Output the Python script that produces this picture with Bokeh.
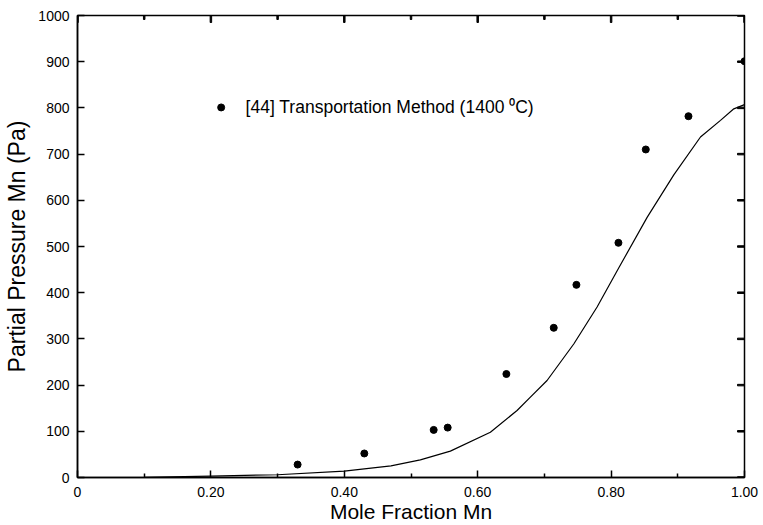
from bokeh.plotting import figure
from bokeh.models import Range1d, FixedTicker
from bokeh.core.properties import value
from bokeh.embed import file_html
from bokeh.resources import INLINE

# experimental points [44] Transportation Method (1400 C)
pts_x = [0.33, 0.43, 0.534, 0.555, 0.643, 0.714, 0.748, 0.811, 0.852, 0.916, 1.0]
pts_y = [28, 52, 103, 108, 224, 324, 417, 508, 710, 782, 901]

# calculated curve
curve_x = [0.0, 0.1, 0.2, 0.3, 0.4, 0.47, 0.514, 0.559, 0.619, 0.659, 0.679, 0.704,
           0.744, 0.779, 0.812, 0.854, 0.894, 0.934, 0.964, 0.984, 1.0]
curve_y = [0, 0.5, 3, 6, 14, 25, 38, 57, 98, 145, 174, 210,
           289, 369, 455, 563, 655, 737, 773, 798, 807]

x_ticks = [0, 0.2, 0.4, 0.6, 0.8, 1.0]
x_minor_ticks = [0.1, 0.3, 0.5, 0.7, 0.9]
x_tick_labels = ["0", "0.20", "0.40", "0.60", "0.80", "1.00"]
y_ticks = [0, 100, 200, 300, 400, 500, 600, 700, 800, 900, 1000]

legend_label = "[44] Transportation Method (1400 \u2070C)"

FONT = "Liberation Sans"
X_MIN, X_MAX, Y_MIN, Y_MAX = 0, 1, 0, 1000

p = figure(width=763, height=525, output_backend="svg", toolbar_location=None,
           x_range=Range1d(X_MIN, X_MAX), y_range=Range1d(Y_MIN, Y_MAX),
           min_border_left=77, min_border_right=19, min_border_top=15,
           min_border_bottom=48, background_fill_color="white",
           border_fill_color="white", outline_line_color="black",
           outline_line_width=1.5)
p.grid.visible = False

def style(ax):
    ax.axis_line_color = "black"
    ax.axis_line_width = 1.5
    ax.major_tick_in = 7
    ax.major_tick_out = 0
    ax.minor_tick_in = 4
    ax.minor_tick_out = 0
    ax.major_tick_line_width = 1.5
    ax.minor_tick_line_width = 1.5
    ax.major_tick_line_color = "black"
    ax.minor_tick_line_color = "black"
    ax.major_label_text_font = FONT
    ax.major_label_text_color = "black"
    ax.major_label_text_font_size = "14px"
    ax.axis_label_text_font = FONT
    ax.axis_label_text_font_style = "normal"
    ax.axis_label_text_color = "black"

xa = p.xaxis[0]
xa.ticker = FixedTicker(ticks=x_ticks, minor_ticks=x_minor_ticks)
style(xa)
xa.major_label_overrides = {t: l for t, l in zip(x_ticks, x_tick_labels)}
xa.major_label_standoff = 9
xa.axis_label = "Mole Fraction Mn"
xa.axis_label_text_font_size = "21px"
xa.axis_label_standoff = 0

ya = p.yaxis[0]
ya.ticker = FixedTicker(ticks=y_ticks)
style(ya)
ya.minor_tick_in = 0
ya.major_label_standoff = 8
ya.axis_label = "Partial Pressure Mn (Pa)"
ya.axis_label_text_font_size = "23px"
ya.axis_label_standoff = 5

# inward tick marks on the top and right frame edges
# (screen-sized rects centred on the edge; the frame clips the outer half)
p.rect(x_ticks, [Y_MAX] * len(x_ticks), width=1.5, height=14,
       width_units="screen", height_units="screen", color="black")
p.rect(x_minor_ticks, [Y_MAX] * len(x_minor_ticks), width=1.5, height=8,
       width_units="screen", height_units="screen", color="black")
p.rect([X_MAX] * len(y_ticks), y_ticks, width=14, height=1.5,
       width_units="screen", height_units="screen", color="black")

p.line(curve_x, curve_y, line_color="black", line_width=1.2)
p.scatter(pts_x, pts_y, size=7, color="black")

# legend entry
p.scatter([0.2154], [801], size=7, color="black")
p.text([0.252], [801], text=[legend_label], text_font=value(FONT),
       text_font_size="17.5px", text_baseline="middle", text_align="left",
       text_color="black")

open("out.html", "w").write(file_html(p, INLINE))
